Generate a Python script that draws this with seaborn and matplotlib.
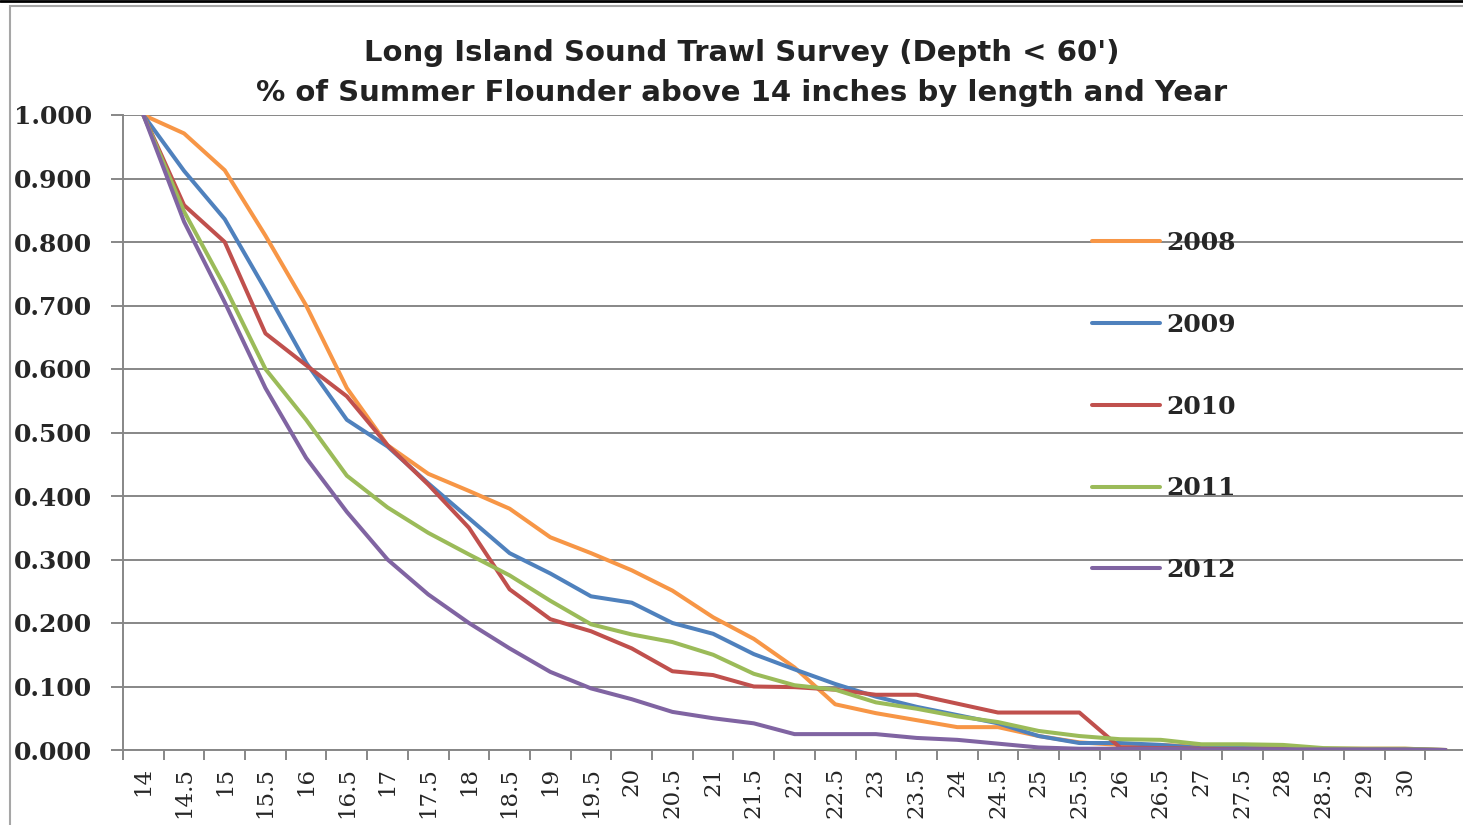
import numpy as np
import pandas as pd
import matplotlib
matplotlib.use("Agg")
import matplotlib.pyplot as plt
import seaborn as sns
from matplotlib.patches import Rectangle
from matplotlib.lines import Line2D

# Length classes (inches); the last class carries no label on the axis
lengths = ["14", "14.5", "15", "15.5", "16", "16.5", "17", "17.5", "18", "18.5",
           "19", "19.5", "20", "20.5", "21", "21.5", "22", "22.5", "23", "23.5",
           "24", "24.5", "25", "25.5", "26", "26.5", "27", "27.5", "28", "28.5",
           "29", "30", ""]

years = ["2008", "2009", "2010", "2011", "2012"]

pct_2008 = [1.000, 0.971, 0.913, 0.810, 0.700, 0.570, 0.480, 0.435, 0.408, 0.380,
            0.335, 0.310, 0.283, 0.251, 0.209, 0.175, 0.130, 0.072, 0.058, 0.047,
            0.036, 0.036, 0.022, 0.012, 0.008, 0.008, 0.005, 0.004, 0.004, 0.002,
            0.002, 0.002, 0.000]
pct_2009 = [1.000, 0.912, 0.836, 0.725, 0.610, 0.520, 0.478, 0.420, 0.365, 0.310,
            0.278, 0.242, 0.232, 0.200, 0.183, 0.151, 0.127, 0.104, 0.084, 0.068,
            0.055, 0.042, 0.022, 0.011, 0.011, 0.008, 0.003, 0.003, 0.002, 0.001,
            0.001, 0.001, 0.000]
pct_2010 = [1.000, 0.858, 0.800, 0.656, 0.606, 0.557, 0.480, 0.418, 0.350, 0.253,
            0.206, 0.187, 0.160, 0.124, 0.118, 0.100, 0.099, 0.095, 0.087, 0.087,
            0.073, 0.059, 0.059, 0.059, 0.004, 0.003, 0.002, 0.001, 0.001, 0.000,
            0.000, 0.000, 0.000]
pct_2011 = [1.000, 0.848, 0.730, 0.600, 0.520, 0.432, 0.382, 0.342, 0.308, 0.275,
            0.235, 0.198, 0.182, 0.170, 0.150, 0.120, 0.102, 0.095, 0.075, 0.065,
            0.053, 0.044, 0.030, 0.022, 0.017, 0.016, 0.009, 0.009, 0.008, 0.003,
            0.002, 0.002, 0.000]
pct_2012 = [1.000, 0.832, 0.705, 0.570, 0.460, 0.375, 0.300, 0.245, 0.200, 0.160,
            0.123, 0.097, 0.080, 0.060, 0.050, 0.042, 0.025, 0.025, 0.025, 0.019,
            0.016, 0.010, 0.004, 0.002, 0.002, 0.002, 0.001, 0.001, 0.001, 0.001,
            0.001, 0.001, 0.000]

series = [pct_2008, pct_2009, pct_2010, pct_2011, pct_2012]
colors = ["#F79646", "#4F81BD", "#C0504D", "#9BBB59", "#8064A2"]

title_1 = "Long Island Sound Trawl Survey (Depth < 60')"
title_2 = "% of Summer Flounder above 14 inches by length and Year"

# long-form table for seaborn
pos = np.arange(len(lengths))
df = pd.concat(
    [pd.DataFrame({"pos": pos, "length": lengths, "share": vals, "year": yr})
     for yr, vals in zip(years, series)],
    ignore_index=True,
)

sns.set_style("white")
plt.rcParams["font.family"] = ["DejaVu Serif", "DejaVu Sans"]

W, H = 1463, 825
fig = plt.figure(figsize=(W / 100, H / 100), dpi=100)
fig.patch.set_facecolor("white")
ax = fig.add_axes([123 / W, 75 / H, 1343 / W, 635 / H])

grid_grey = "#878787"

sns.lineplot(data=df, x="pos", y="share", hue="year", palette=dict(zip(years, colors)),
             linewidth=2.9, estimator=None, sort=False, ax=ax)

ax.set_xlim(-0.5, len(lengths) - 0.5)
ax.set_ylim(0, 1)
ax.set_xlabel("")
ax.set_ylabel("")

yt = np.round(np.arange(0, 1.0001, 0.1), 1)
ax.set_yticks(yt)
ax.set_yticklabels([f"{v:.3f}" for v in yt], fontsize=18, fontweight="bold",
                   family="DejaVu Serif")
ax.set_xticks(pos)
ax.set_xticklabels(lengths, rotation=90, fontsize=16.5, family="DejaVu Serif")
ax.set_xticks(np.arange(-0.5, len(lengths), 1.0), minor=True)

ax.tick_params(axis="x", which="major", length=0, pad=12.5)
ax.tick_params(axis="x", which="minor", length=7, width=1.4, color=grid_grey,
               direction="out", bottom=True)
ax.tick_params(axis="y", which="major", length=9, width=1.4, color=grid_grey,
               direction="out", left=True, pad=13.5)

ax.grid(axis="y", color=grid_grey, linewidth=1.4)
ax.grid(axis="x", visible=False)
ax.set_axisbelow(True)
for side in ["top", "right"]:
    ax.spines[side].set_visible(False)
for side in ["left", "bottom"]:
    ax.spines[side].set_color(grid_grey)
    ax.spines[side].set_linewidth(1.4)
    ax.spines[side].set_zorder(1)

handles, labels = ax.get_legend_handles_labels()
ax.legend(handles, labels, loc="upper left",
          bbox_to_anchor=(1092 / W, 1 - 231 / H), bbox_transform=fig.transFigure,
          frameon=False, prop={"family": "DejaVu Serif", "weight": "bold", "size": 18},
          handlelength=2.72, handletextpad=0.24, labelspacing=2.31,
          borderpad=0, borderaxespad=0)

# chart titles
title_font = dict(ha="center", va="center", family=["DejaVu Sans"],
                  fontweight="bold", fontsize=21, color="#222222")
fig.text(742 / W, 1 - 53 / H, title_1, **title_font)
fig.text(742 / W, 1 - 93 / H, title_2, **title_font)

# chart-area frame and the dark rule along the top edge
fig.add_artist(Rectangle((10 / W, -0.2), 1.2, 1.2 - 6 / H, transform=fig.transFigure,
                         fill=False, edgecolor="#a6a6a6", linewidth=1.5))
fig.add_artist(Line2D([0, 1], [1 - 1 / H, 1 - 1 / H], transform=fig.transFigure,
                      color="black", linewidth=2))

fig.savefig("out.png", dpi=100)
